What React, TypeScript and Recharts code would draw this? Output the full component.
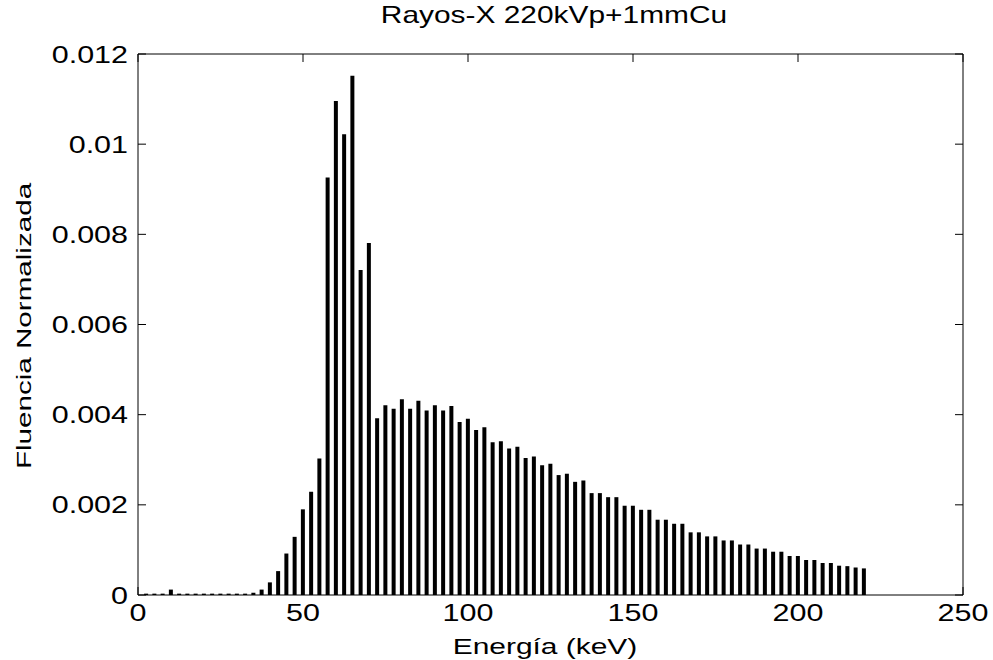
import { BarChart, Bar, XAxis, YAxis } from "recharts";

// energy bins (keV)
const energies = [
  2.5, 5, 7.5, 10, 12.5, 15, 17.5, 20, 22.5, 25, 27.5, 30, 32.5, 35, 37.5, 40,
  42.5, 45, 47.5, 50, 52.5, 55, 57.5, 60, 62.5, 65, 67.5, 70, 72.5, 75, 77.5,
  80, 82.5, 85, 87.5, 90, 92.5, 95, 97.5, 100, 102.5, 105, 107.5, 110, 112.5,
  115, 117.5, 120, 122.5, 125, 127.5, 130, 132.5, 135, 137.5, 140, 142.5, 145,
  147.5, 150, 152.5, 155, 157.5, 160, 162.5, 165, 167.5, 170, 172.5, 175,
  177.5, 180, 182.5, 185, 187.5, 190, 192.5, 195, 197.5, 200, 202.5, 205,
  207.5, 210, 212.5, 215, 217.5, 220,
];

// normalized fluence per bin
const fluence = [
  0.00003, 0.00003, 0.00003, 0.00012, 0.00003, 0.00003, 0.00003, 0.00003,
  0.00003, 0.00003, 0.00003, 0.00003, 0.00003, 0.00005, 0.00012, 0.00028,
  0.00053, 0.00092, 0.00129, 0.0019, 0.00229, 0.00303, 0.00926, 0.01096,
  0.01022, 0.01152, 0.00721, 0.00781, 0.00392, 0.00421, 0.00413, 0.00434,
  0.00413, 0.00431, 0.00409, 0.00421, 0.00409, 0.00419, 0.00384, 0.00391,
  0.00366, 0.00372, 0.00339, 0.00341, 0.00325, 0.00329, 0.00304, 0.00307,
  0.00288, 0.00291, 0.00266, 0.00269, 0.00251, 0.00254, 0.00226, 0.00226,
  0.00217, 0.00217, 0.00198, 0.00198, 0.00189, 0.00189, 0.00167, 0.00167,
  0.00158, 0.00158, 0.00139, 0.00139, 0.0013, 0.0013, 0.00121, 0.00121,
  0.00112, 0.00112, 0.00103, 0.00103, 0.00096, 0.00096, 0.000865, 0.000865,
  0.000776, 0.000776, 0.00071, 0.00071, 0.00065, 0.00064, 0.00061, 0.00059,
];

const xTicks = [0, 50, 100, 150, 200, 250];
const yTicks = [0, 0.002, 0.004, 0.006, 0.008, 0.01, 0.012];

const data = energies.map((e, i) => ({ e, f: fluence[i] }));

const FONT = '"Liberation Sans", Arial, Helvetica, sans-serif';

const xTick = (props: any) => (
  <text
    transform={`translate(${props.x},${props.y}) scale(1.27,1)`}
    textAnchor="middle"
    dy="0.71em"
    fontSize={24}
    fontFamily={FONT}
    fill="#000"
  >
    {props.payload.value}
  </text>
);

const yTick = (props: any) => (
  <text
    transform={`translate(${props.x},${props.y}) scale(1.27,1)`}
    textAnchor="end"
    dy="0.355em"
    fontSize={24}
    fontFamily={FONT}
    fill="#000"
  >
    {String(props.payload.value)}
  </text>
);

const noLabel = () => <g />;

export default function App() {
  return (
    <div style={{ position: "absolute", left: 0, top: 0, width: 993, height: 660, background: "#fff" }}>
      <BarChart
        width={993}
        height={660}
        data={data}
        margin={{ top: 54, right: 30, bottom: 0, left: 38 }}
      >
        <XAxis
          xAxisId="main"
          dataKey="e"
          type="number"
          domain={[0, 250]}
          ticks={xTicks}
          height={65}
          tickLine={false}
          tickSize={0}
          tickMargin={9}
          axisLine={{ stroke: "#000" }}
          tick={xTick}
        />
        <XAxis
          xAxisId="bottomTicks"
          dataKey="e"
          type="number"
          domain={[0, 250]}
          ticks={xTicks}
          height={1}
          mirror
          tick={noLabel}
          tickSize={8}
          tickLine={{ stroke: "#000" }}
          axisLine={false}
        />
        <XAxis
          xAxisId="top"
          orientation="top"
          dataKey="e"
          type="number"
          domain={[0, 250]}
          ticks={xTicks}
          height={1}
          mirror
          tick={noLabel}
          tickSize={8}
          tickLine={{ stroke: "#000" }}
          axisLine={{ stroke: "#000" }}
        />
        <YAxis
          yAxisId="main"
          type="number"
          domain={[0, 0.012]}
          ticks={yTicks}
          width={100}
          tickLine={false}
          tickSize={0}
          tickMargin={10}
          axisLine={{ stroke: "#000" }}
          tick={yTick}
        />
        <YAxis
          yAxisId="leftTicks"
          type="number"
          domain={[0, 0.012]}
          ticks={yTicks}
          width={1}
          mirror
          tick={noLabel}
          tickSize={8}
          tickLine={{ stroke: "#000" }}
          axisLine={false}
        />
        <YAxis
          yAxisId="right"
          orientation="right"
          type="number"
          domain={[0, 0.012]}
          ticks={yTicks}
          width={1}
          mirror
          tick={noLabel}
          tickSize={8}
          tickLine={{ stroke: "#000" }}
          axisLine={{ stroke: "#000" }}
        />
        <Bar
          xAxisId="main"
          yAxisId="main"
          dataKey="f"
          fill="#000"
          barSize={4}
          isAnimationActive={false}
        />
        <Bar
          xAxisId="bottomTicks"
          yAxisId="leftTicks"
          dataKey="f"
          fill="none"
          barSize={4}
          isAnimationActive={false}
        />
        <Bar
          xAxisId="top"
          yAxisId="right"
          dataKey="f"
          fill="none"
          barSize={4}
          isAnimationActive={false}
        />
        <text
          transform="translate(554,23) scale(1.3,1)"
          textAnchor="middle"
          fontSize={23}
          fontFamily={FONT}
          fill="#000"
        >
          Rayos-X 220kVp+1mmCu
        </text>
        <text
          transform="translate(545,654) scale(1.36,1)"
          textAnchor="middle"
          fontSize={22}
          fontFamily={FONT}
          fill="#000"
        >
          Energía (keV)
        </text>
        <text
          transform="translate(31,326) rotate(-90) scale(1.41,1)"
          textAnchor="middle"
          fontSize={21}
          fontFamily={FONT}
          fill="#000"
        >
          Fluencia Normalizada
        </text>
      </BarChart>
    </div>
  );
}
